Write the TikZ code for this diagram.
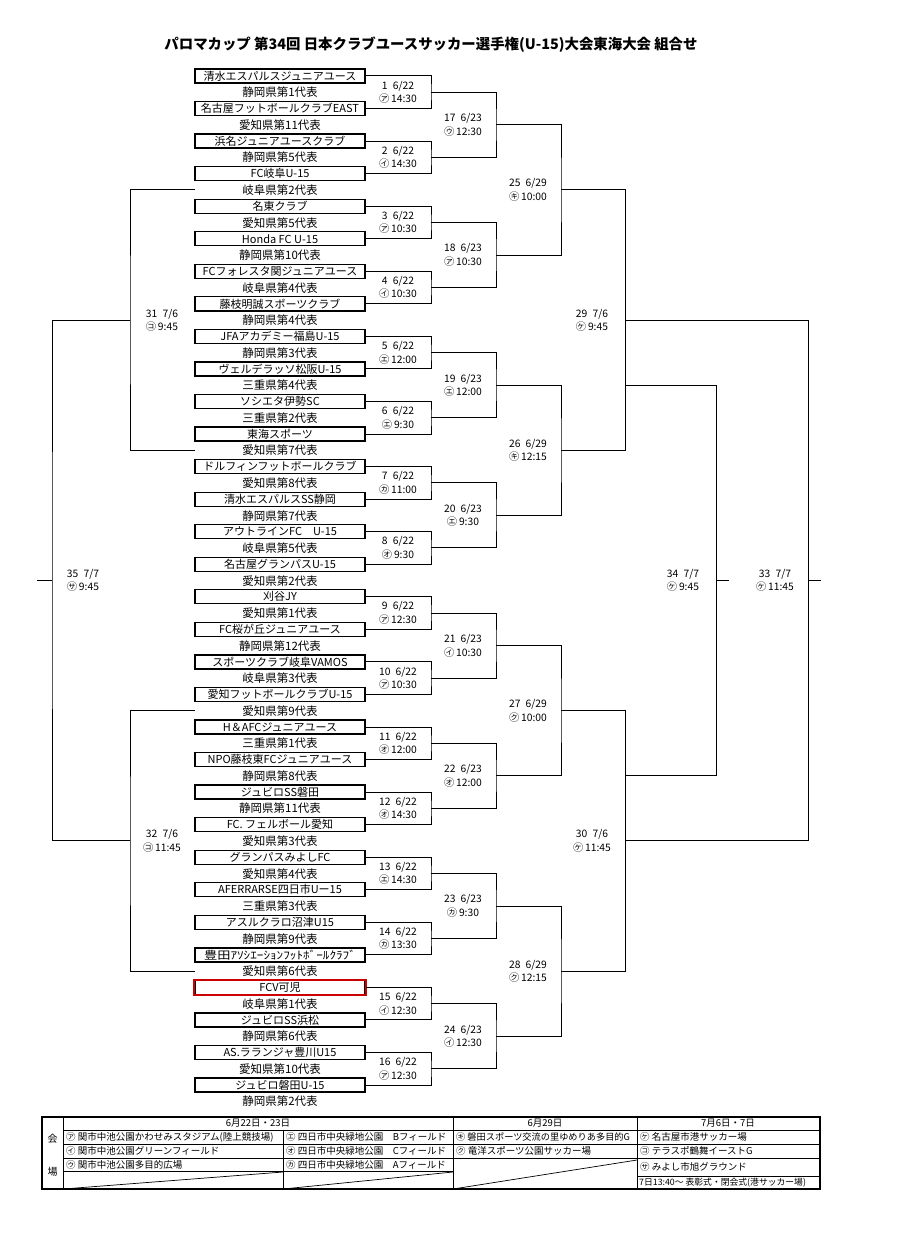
\documentclass[tikz,border=0pt]{standalone}
\usepackage{fontspec}
\setmainfont{Noto Sans CJK JP}
\begin{document}
\begin{tikzpicture}[x=1pt,y=-1pt,
  teambox/.style={draw,line width=1.3pt,minimum width=170pt,minimum height=14pt,inner sep=0pt,font=\fontsize{11}{11}\selectfont},
  redbox/.style={draw=red!80!black,line width=2pt},
  rep/.style={inner sep=0pt,font=\fontsize{11.5}{12}\selectfont},
  mlabel/.style={align=center,inner sep=0pt,font=\fontsize{10.3}{13.5}\selectfont},
  conn/.style={line width=1pt},
  cell/.style={anchor=west,inner sep=0pt,font=\fontsize{9.5}{9.5}\selectfont},
  head/.style={inner sep=0pt,font=\fontsize{9.5}{9.5}\selectfont},
  frame/.style={line width=1.3pt},
  thinl/.style={line width=0.7pt}]
\useasboundingbox[fill=white] (0,0) rectangle (900,1238);

\node[font=\bfseries\fontsize{14.4}{14.4}\selectfont] (title) at (431,45)
  {パロマカップ 第34回 日本クラブユースサッカー選手権(U-15)大会東海大会 組合せ};

% teams
\foreach \i/\nm/\rp in {
1/清水エスパルスジュニアユース/静岡県第1代表,
2/名古屋フットボールクラブEAST/愛知県第11代表,
3/浜名ジュニアユースクラブ/静岡県第5代表,
4/FC岐阜U-15/岐阜県第2代表,
5/名東クラブ/愛知県第5代表,
6/Honda FC U-15/静岡県第10代表,
7/FCフォレスタ関ジュニアユース/岐阜県第4代表,
8/藤枝明誠スポーツクラブ/静岡県第4代表,
9/JFAアカデミー福島U-15/静岡県第3代表,
10/ヴェルデラッソ松阪U-15/三重県第4代表,
11/ソシエタ伊勢SC/三重県第2代表,
12/東海スポーツ/愛知県第7代表,
13/ドルフィンフットボールクラブ/愛知県第8代表,
14/清水エスパルスSS静岡/静岡県第7代表,
15/アウトラインFC　U-15/岐阜県第5代表,
16/名古屋グランパスU-15/愛知県第2代表,
17/刈谷JY/愛知県第1代表,
18/FC桜が丘ジュニアユース/静岡県第12代表,
19/スポーツクラブ岐阜VAMOS/岐阜県第3代表,
20/愛知フットボールクラブU-15/愛知県第9代表,
21/H＆AFCジュニアユース/三重県第1代表,
22/NPO藤枝東FCジュニアユース/静岡県第8代表,
23/ジュビロSS磐田/静岡県第11代表,
24/FC. フェルボール愛知/愛知県第3代表,
25/グランパスみよしFC/愛知県第4代表,
26/AFERRARSE四日市Uー15/三重県第3代表,
27/アスルクラロ沼津U15/静岡県第9代表,
28/{\scalebox{1.2}[1]{豊田ｱｿｼｴｰｼｮﾝﾌｯﾄﾎﾞｰﾙｸﾗﾌﾞ}}/愛知県第6代表,
29/FCV可児/岐阜県第1代表,
30/ジュビロSS浜松/静岡県第6代表,
31/AS.ラランジャ豊川U15/愛知県第10代表,
32/ジュビロ磐田U-15/静岡県第2代表}{
  \pgfmathsetmacro{\cy}{76+32.55*(\i-1)}
  \node[teambox] (t\i) at (280,\cy) {\nm};
  \node[rep] (r\i) at (280,\cy+16.5) {\rp};
}
\draw[redbox] (t29.north west) rectangle (t29.south east);

% first round
\foreach \k in {1,...,16}{
  \pgfmathtruncatemacro{\a}{2*\k-1}
  \pgfmathtruncatemacro{\b}{2*\k}
  \pgfmathsetmacro{\my}{92.275+65.1*(\k-1)}
  \coordinate (b\k) at (431,\my);
  \draw[conn] (t\a.east) -| (b\k) |- (t\b.east);
}
% second round
\foreach \j in {17,...,24}{
  \pgfmathtruncatemacro{\a}{2*(\j-16)-1}
  \pgfmathtruncatemacro{\b}{2*(\j-16)}
  \pgfmathsetmacro{\my}{124.825+130.2*(\j-17)}
  \coordinate (b\j) at (496,\my);
  \draw[conn] (b\a) -| (b\j) |- (b\b);
}
% third round
\foreach \j/\a/\b in {25/17/18,26/19/20,27/21/22,28/23/24}{
  \pgfmathsetmacro{\my}{189.925+260.4*(\j-25)}
  \coordinate (b\j) at (561,\my);
  \draw[conn] (b\a) -| (b\j) |- (b\b);
}
% 29, 30
\coordinate (b29) at (625,320.125);
\coordinate (b30) at (625,840.925);
\draw[conn] (b25) -| (b29) |- (b26);
\draw[conn] (b27) -| (b30) |- (b28);
% 33, 34
\coordinate (b33) at (808,580.525);
\coordinate (b34) at (716,580.525);
\coordinate (l29) at (625,385.225);
\coordinate (l30) at (625,775.825);
\coordinate (e33) at (821,580.525);
\coordinate (e34) at (729,580.525);
\draw[conn] (b29) -| (b33) |- (b30);
\draw[conn] (l29) -| (b34) |- (l30);
\draw[conn] (b33) -- (e33);
\draw[conn] (b34) -- (e34);
% left side 31, 32, 35
\coordinate (l25) at (195,189.925);
\coordinate (l26) at (195,450.325);
\coordinate (l27) at (195,710.725);
\coordinate (l28) at (195,971.125);
\coordinate (b31) at (130,320.125);
\coordinate (b32) at (130,840.925);
\coordinate (b35) at (52,580.525);
\coordinate (e35) at (37,580.525);
\draw[conn] (l25) -| (b31) |- (l26);
\draw[conn] (l27) -| (b32) |- (l28);
\draw[conn] (b31) -| (b35) |- (b32);
\draw[conn] (b35) -- (e35);

% match labels
\foreach \k/\mo/\dy/\ven/\tm/\sh in {
1/6/22/㋐/14:30/-33, 2/6/22/㋑/14:30/-33, 3/6/22/㋐/10:30/-33, 4/6/22/㋑/10:30/-33,
5/6/22/㋓/12:00/-33, 6/6/22/㋓/9:30/-33, 7/6/22/㋕/11:00/-33, 8/6/22/㋔/9:30/-33,
9/6/22/㋐/12:30/-33, 10/6/22/㋐/10:30/-33, 11/6/22/㋔/12:00/-33, 12/6/22/㋔/14:30/-33,
13/6/22/㋓/14:30/-33, 14/6/22/㋕/13:30/-33, 15/6/22/㋑/12:30/-33, 16/6/22/㋐/12:30/-33,
17/6/23/㋒/12:30/-33, 18/6/23/㋐/10:30/-33, 19/6/23/㋓/12:00/-33, 20/6/23/㋓/9:30/-33,
21/6/23/㋑/10:30/-33, 22/6/23/㋔/12:00/-33, 23/6/23/㋕/9:30/-33, 24/6/23/㋑/12:30/-33,
25/6/29/㋖/10:00/-33, 26/6/29/㋖/12:15/-33, 27/6/29/㋗/10:00/-33, 28/6/29/㋗/12:15/-33,
29/7/6/㋘/9:45/-33, 30/7/6/㋘/11:45/-33, 33/7/7/㋘/11:45/-33, 34/7/7/㋘/9:45/-33,
31/7/6/㋙/9:45/32, 32/7/6/㋙/11:45/32, 35/7/7/㋚/9:45/31}{
  \node[mlabel] (ml\k) at ([xshift=\sh pt]b\k) {\k\enspace\mo/\dy\\\ven\,\tm};
}

% venue table
\draw[frame] (42,1117) rectangle (820,1189);
\draw[thinl] (63,1117) -- (63,1189);
\draw[thinl] (453,1117) -- (453,1189);
\draw[thinl] (637,1117) -- (637,1189);
\draw[thinl] (283,1130) -- (283,1189);
\draw[thinl] (63,1130) -- (820,1130);
\draw[thinl] (63,1144) -- (820,1144);
\draw[thinl] (63,1158) -- (820,1158);
\draw[thinl] (63,1171) -- (453,1171);
\draw[thinl] (637,1176) -- (820,1176);
\draw[thinl] (63,1189) -- (283,1172);
\draw[thinl] (283,1189) -- (453,1172);
\draw[thinl] (453,1189) -- (637,1160);

\node[font=\fontsize{10}{10}\selectfont] (kai) at (52.5,1139) {会};
\node[font=\fontsize{10}{10}\selectfont] (jo) at (52.5,1172) {場};
\node[head] (h1) at (258,1123.5) {6月22日・23日};
\node[head] (h2) at (545,1123.5) {6月29日};
\node[head] (h3) at (728,1123.5) {7月6日・7日};

\node[cell] (v1) at (66,1137) {㋐ 関市中池公園かわせみスタジアム(陸上競技場)};
\node[cell] (v2) at (66,1151) {㋑ 関市中池公園グリーンフィールド};
\node[cell] (v3) at (66,1164.5) {㋒ 関市中池公園多目的広場};
\node[cell] (v4) at (286,1137) {㋓ 四日市中央緑地公園　Bフィールド};
\node[cell] (v5) at (286,1151) {㋔ 四日市中央緑地公園　Cフィールド};
\node[cell] (v6) at (286,1164.5) {㋕ 四日市中央緑地公園　Aフィールド};
\node[cell,font=\fontsize{9.2}{9.5}\selectfont] (v7) at (456,1137) {㋖ 磐田スポーツ交流の里ゆめりあ多目的G};
\node[cell] (v8) at (456,1151) {㋗ 竜洋スポーツ公園サッカー場};
\node[cell] (v9) at (640,1137) {㋘ 名古屋市港サッカー場};
\node[cell] (v10) at (640,1151) {㋙ テラスポ鶴舞イーストG};
\node[cell] (v11) at (640,1167) {㋚ みよし市旭グラウンド};
\node[cell,font=\fontsize{8.8}{9}\selectfont] (v12) at (639,1182.5) {7日13:40〜 表彰式・閉会式(港サッカー場)};
\end{tikzpicture}
\end{document}
